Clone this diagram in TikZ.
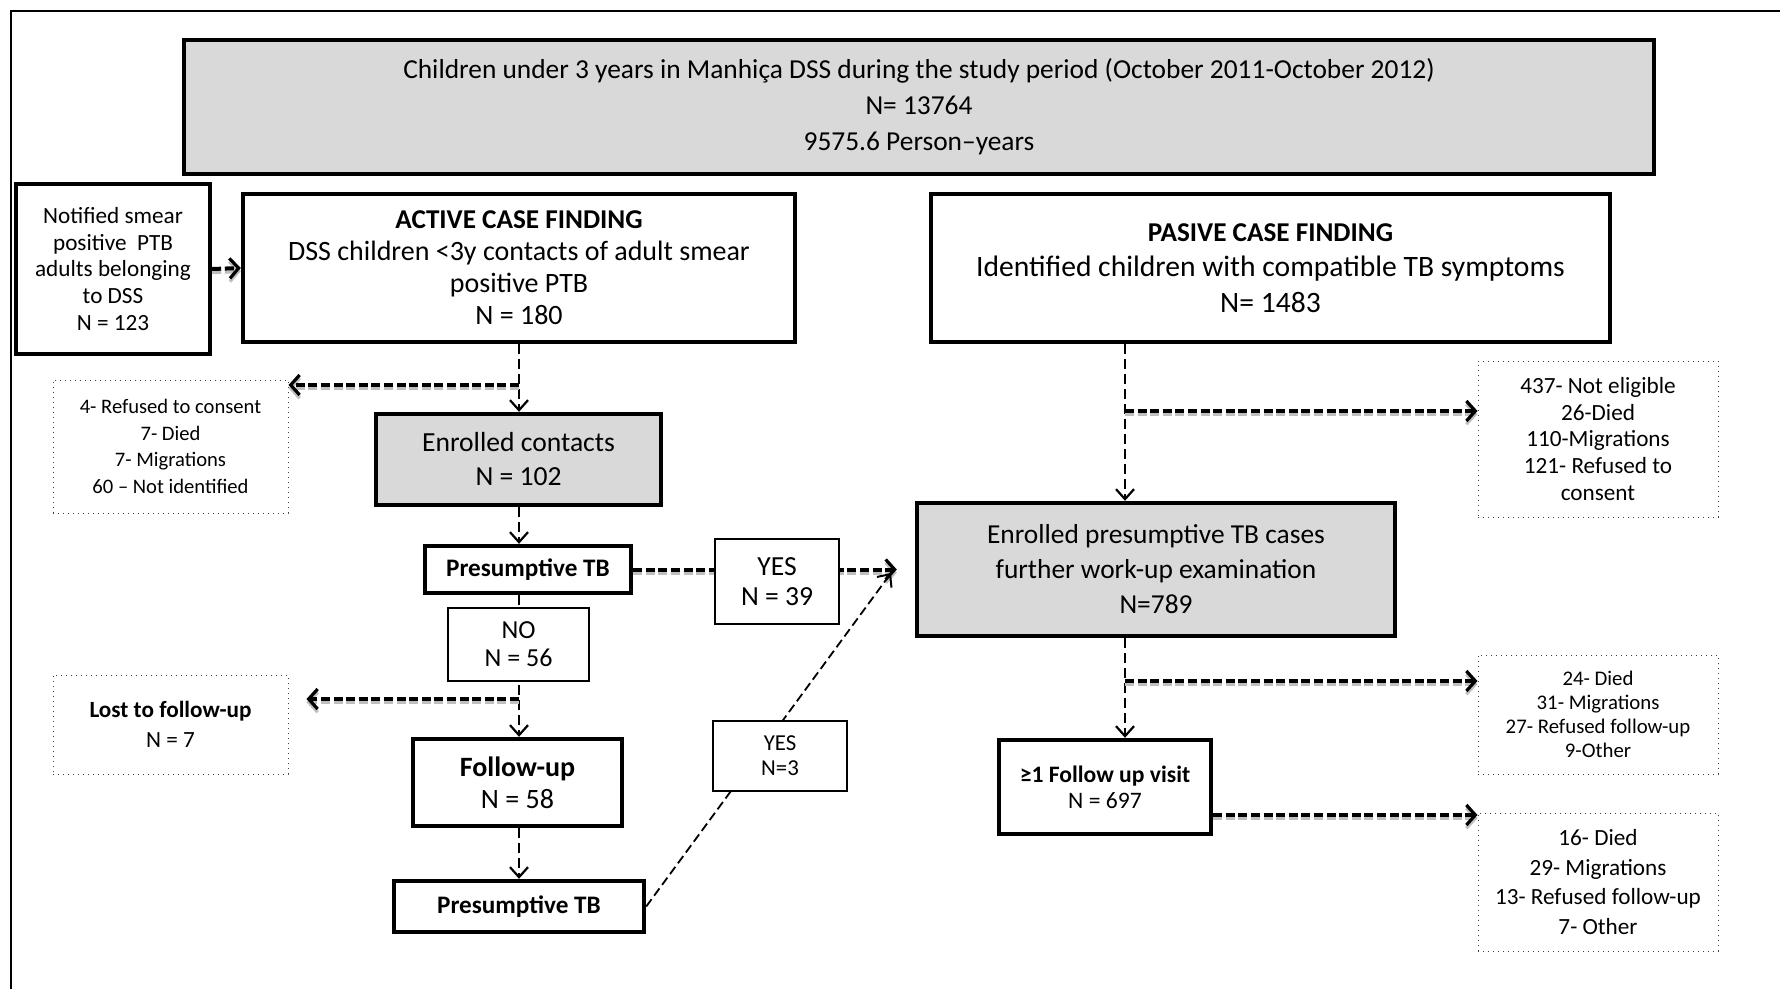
\documentclass[tikz,border=0pt]{standalone}
\usepackage{fontspec}
\setmainfont{Carlito}
\usetikzlibrary{arrows.meta}
\definecolor{boxgray}{HTML}{D9D9D9}
\tikzset{
  thickbox/.style={draw, line width=2.2pt, fill=white, align=center, inner sep=0pt},
  graybox/.style={thickbox, fill=boxgray},
  thinbox/.style={draw, line width=0.7pt, fill=white, align=center, inner sep=0pt},
  dotbox/.style={draw=black!75, dotted, line width=0.5pt, align=center, inner sep=0pt},
  vflow/.style={line width=1.1pt, dash pattern=on 5pt off 2.5pt, -{Straight Barb[length=5pt,width=9pt,line width=1.1pt]}},
  hflow/.style={line width=2pt, dash pattern=on 4.5pt off 1.8pt,
     -{Straight Barb[length=4.5pt,width=10pt,line width=1.6pt]},
     preaction={draw=black!25, line width=2pt, dash pattern=on 4.5pt off 1.8pt, transform canvas={yshift=-1.6pt}}},
  dflow/.style={line width=0.9pt, dash pattern=on 4.5pt off 2.2pt, -{Straight Barb[length=5pt,width=9pt,line width=1pt]}},
}
\begin{document}
\begin{tikzpicture}[x=0.5pt,y=-0.5pt]
\useasboundingbox (0,0) rectangle (1780,989);
% outer frame
\draw[line width=1.2pt] (11,989) -- (11,11) -- (1780,11);

% nodes
\node[graybox, minimum width=735pt, minimum height=67pt, font=\fontsize{13.7}{18}\selectfont] (top) at (919,107)
  {Children under 3 years in Manhiça DSS during the study period (October 2011-October 2012)\\N= 13764\\9575.6 Person–years};

\node[thickbox, minimum width=97pt, minimum height=85pt, font=\fontsize{11.6}{13.3}\selectfont] (notif) at (113,269)
  {Notified smear\\positive\ \ PTB\\adults belonging\\to DSS\\N = 123};

\node[thickbox, minimum width=276pt, minimum height=74pt, font=\fontsize{14}{16}\selectfont] (active) at (519,268)
  {{\fontsize{13.6}{16}\selectfont\bfseries ACTIVE CASE FINDING}\\DSS children <3y contacts of adult smear\\positive PTB\\N = 180};

\node[thickbox, minimum width=339.5pt, minimum height=74pt, font=\fontsize{14.8}{17.6}\selectfont] (pasive) at (1270.5,268)
  {{\fontsize{13.6}{17.6}\selectfont\bfseries PASIVE CASE FINDING}\\Identified children with compatible TB symptoms\\N= 1483};

\node[dotbox, minimum width=117.5pt, minimum height=66.5pt, font=\fontsize{10.3}{13.2}\selectfont] (drop1) at (170.5,446.5)
  {4- Refused to consent\\7- Died\\7- Migrations\\60 – Not identified};

\node[graybox, minimum width=142.5pt, minimum height=45.5pt, font=\fontsize{13.8}{17}\selectfont] (enrc) at (518.5,459.5)
  {Enrolled contacts\\N = 102};

\node[thickbox, minimum width=103pt, minimum height=23.5pt, font=\fontsize{12.6}{14}\selectfont\bfseries] (ptb1) at (528,569.5)
  {Presumptive TB};

\node[thickbox, minimum width=104.5pt, minimum height=43.5pt, font=\fontsize{14}{16}\selectfont] (fu) at (517.5,782.5)
  {{\bfseries Follow-up}\\N = 58};

\node[thickbox, minimum width=125pt, minimum height=25.5pt, font=\fontsize{12.6}{14}\selectfont\bfseries] (ptb2) at (519,906.5)
  {Presumptive TB};

\node[dotbox, minimum width=117.5pt, minimum height=49.5pt, font=\fontsize{11.6}{14.8}\selectfont] (lost) at (170.5,724.5)
  {{\bfseries Lost to follow-up}\\N = 7};

\node[graybox, minimum width=239pt, minimum height=66.5pt, font=\fontsize{13.7}{17.5}\selectfont] (epres) at (1156,569.5)
  {Enrolled presumptive TB cases\\further work-up examination\\N=789};

\node[dotbox, minimum width=120pt, minimum height=78pt, font=\fontsize{11.6}{13.3}\selectfont] (r1) at (1598,439)
  {437- Not eligible\\26-Died\\110-Migrations\\121- Refused to\\consent};

\node[dotbox, minimum width=120pt, minimum height=59.5pt, font=\fontsize{10.4}{12}\selectfont] (r2) at (1598,714.5)
  {24- Died\\31- Migrations\\27- Refused follow-up\\9-Other};

\node[thickbox, minimum width=106pt, minimum height=47pt, font=\fontsize{11.8}{13}\selectfont] (fuv) at (1105,787)
  {{\bfseries ≥1 Follow up visit}\\N = 697};

\node[dotbox, minimum width=120pt, minimum height=69pt, font=\fontsize{11.6}{14.8}\selectfont] (r3) at (1598,882)
  {16- Died\\29- Migrations\\13- Refused follow-up\\7- Other};

% connectors
\coordinate (b1) at (519,385);
\coordinate (b2) at (519,699);
\coordinate (b3) at (1125,411);
\coordinate (b4) at (1125,681);
\coordinate (b5) at (1211,815);
\coordinate (dtip) at (891,573);

\draw[hflow] (notif.east) -- (active.west);
\draw[vflow] (active.south -| b1) -- (enrc.north -| b1);
\draw[hflow] (b1) -- (b1 -| drop1.east);
\draw[vflow] (enrc.south -| b1) -- (ptb1.north -| b1);
\draw[vflow] (ptb1.south -| b1) -- (fu.north -| b1);
\draw[hflow, shorten >=9pt] (b2) -- (b2 -| lost.east);
\draw[vflow] (fu.south -| b1) -- (ptb2.north -| b1);
\draw[hflow, shorten >=9pt] (ptb1.east) -- (ptb1.east -| epres.west);
\draw[dflow] (ptb2.east) -- (dtip);

\draw[vflow] (pasive.south -| b3) -- (epres.north -| b3);
\draw[hflow] (b3) -- (b3 -| r1.west);
\draw[vflow] (epres.south -| b3) -- (fuv.north -| b3);
\draw[hflow] (b4) -- (b4 -| r2.west);
\draw[hflow] (fuv.east |- b5) -- (b5 -| r3.west);

% labels on connectors
\node[thinbox, minimum width=70.5pt, minimum height=36.5pt, font=\fontsize{13}{14}\selectfont] (no) at (518.5,644.5)
  {NO\\N = 56};
\node[thinbox, minimum width=62pt, minimum height=42.5pt, font=\fontsize{13.8}{15}\selectfont] (yes1) at (777,581.5)
  {YES\\N = 39};
\node[thinbox, minimum width=67pt, minimum height=35pt, font=\fontsize{11.4}{12.5}\selectfont] (yes2) at (780,756)
  {YES\\N=3};
\end{tikzpicture}
\end{document}
